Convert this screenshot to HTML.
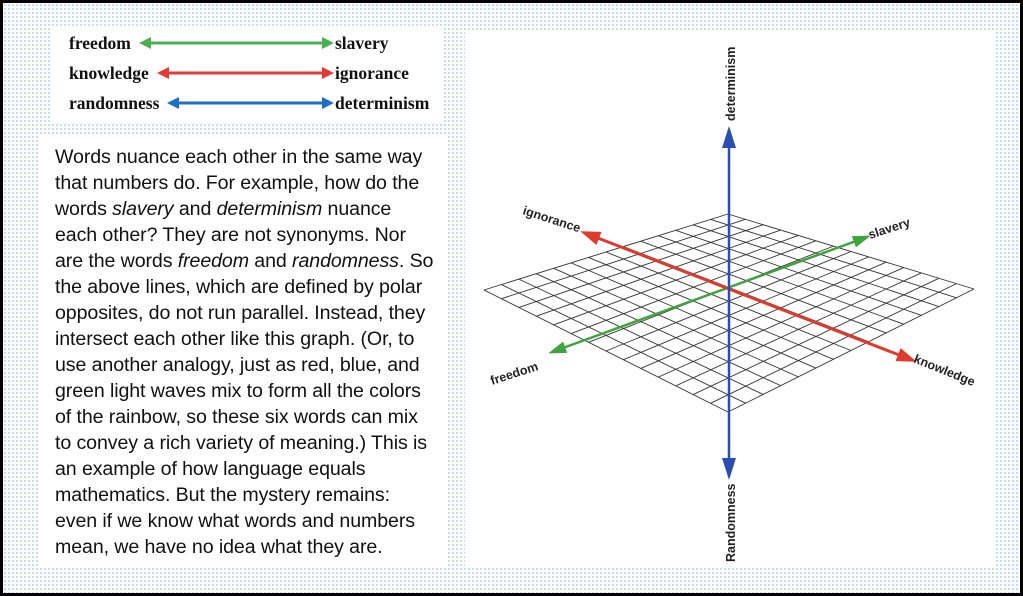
<!DOCTYPE html>
<html><head><meta charset="utf-8"><style>
html,body{margin:0;padding:0;width:1023px;height:596px;overflow:hidden;background:#fff}
#wrap{position:absolute;left:0;top:0;width:1017px;height:590px;border:3px solid #000;
background-color:#fff;background-image:radial-gradient(circle,#b9d3ea 0.9px,transparent 1.1px);background-size:4px 4px}
.panel{position:absolute;background:#fff}
.txt{font-family:"Liberation Sans",sans-serif;font-size:19.6px;line-height:26px;color:#111;white-space:nowrap;letter-spacing:-0.1px}
</style></head><body>
<div id="wrap">
<div class="panel" style="left:47px;top:25px;width:393px;height:95px"></div>
<div class="panel" style="left:35px;top:132px;width:408px;height:431px"></div>
<div class="panel" style="left:462px;top:27px;width:531px;height:536px"></div>
</div>
<svg width="1023" height="596" style="position:absolute;left:0;top:0">
<defs>
<marker id="ag" markerWidth="12" markerHeight="12" refX="9" refY="6" orient="auto-start-reverse" markerUnits="userSpaceOnUse"><path d="M0,0 L12,6 L0,12 Z" fill="#4caf50"/></marker>
<marker id="ar" markerWidth="12" markerHeight="12" refX="9" refY="6" orient="auto-start-reverse" markerUnits="userSpaceOnUse"><path d="M0,0 L12,6 L0,12 Z" fill="#e53935"/></marker>
<marker id="ab" markerWidth="12" markerHeight="12" refX="9" refY="6" orient="auto-start-reverse" markerUnits="userSpaceOnUse"><path d="M0,0 L12,6 L0,12 Z" fill="#1e6fc8"/></marker>
<marker id="g2" markerWidth="18" markerHeight="12" refX="14" refY="6" orient="auto-start-reverse" markerUnits="userSpaceOnUse"><path d="M0,0 L18,6 L0,12 Z" fill="#3fa33f"/></marker>
<marker id="r2" markerWidth="20" markerHeight="14" refX="15" refY="7" orient="auto-start-reverse" markerUnits="userSpaceOnUse"><path d="M0,0 L20,7 L0,14 Z" fill="#e03a2f"/></marker>
<marker id="b2" markerWidth="22" markerHeight="14" refX="18" refY="7" orient="auto-start-reverse" markerUnits="userSpaceOnUse"><path d="M0,0 L22,7 L0,14 Z" fill="#2a4fb0"/></marker>
</defs>
<g font-family="Liberation Serif,serif" font-weight="bold" font-size="17.5" fill="#111">
<text x="69" y="49">freedom</text><text x="335" y="49">slavery</text>
<text x="69" y="79">knowledge</text><text x="335" y="79">ignorance</text>
<text x="69" y="109">randomness</text><text x="335" y="109">determinism</text>
</g>
<line x1="142" y1="43" x2="331" y2="43" stroke="#4caf50" stroke-width="3" marker-start="url(#ag)" marker-end="url(#ag)"/>
<line x1="160" y1="73" x2="331" y2="73" stroke="#e53935" stroke-width="3" marker-start="url(#ar)" marker-end="url(#ar)"/>
<line x1="170" y1="103" x2="331" y2="103" stroke="#1e6fc8" stroke-width="3" marker-start="url(#ab)" marker-end="url(#ab)"/>
<g id="grid" stroke="#333" stroke-width="0.9" fill="none"></g>
<line x1="552" y1="352" x2="867" y2="237" stroke="#3fa33f" stroke-width="2.5" marker-start="url(#g2)" marker-end="url(#g2)"/>
<line x1="585" y1="233" x2="912" y2="360" stroke="#e03a2f" stroke-width="3" marker-start="url(#r2)" marker-end="url(#r2)"/>
<line x1="729" y1="130" x2="729" y2="476" stroke="#2a4fb0" stroke-width="2.5" marker-start="url(#b2)" marker-end="url(#b2)"/>
<g font-family="Liberation Sans,sans-serif" font-weight="bold" font-size="12.5" fill="#222">
<text transform="translate(735,121) rotate(-90)">determinism</text>
<text transform="translate(735,562) rotate(-90)">Randomness</text>
<text transform="translate(522,214) rotate(18)">ignorance</text>
<text transform="translate(870,239) rotate(-18)">slavery</text>
<text transform="translate(492,385) rotate(-18)">freedom</text>
<text transform="translate(913,362) rotate(22)">knowledge</text>
</g>
</svg>
<div class="txt" style="position:absolute;left:55px;top:144px">
Words nuance each other in the same way<br>
that numbers do. For example, how do the<br>
words <i>slavery</i> and <i>determinism</i> nuance<br>
each other? They are not synonyms. Nor<br>
are the words <i>freedom</i> and <i>randomness</i>. So<br>
the above lines, which are defined by polar<br>
opposites, do not run parallel. Instead, they<br>
intersect each other like this graph. (Or, to<br>
use another analogy, just as red, blue, and<br>
green light waves mix to form all the colors<br>
of the rainbow, so these six words can mix<br>
to convey a rich variety of meaning.) This is<br>
an example of how language equals<br>
mathematics. But the mystery remains:<br>
even if we know what words and numbers<br>
mean, we have no idea what they are.
</div>
<script>
(function(){
var T=[728,214],L=[484,290],R=[974,289],B=[728,412],n=14,g=document.getElementById('grid'),s='';
function lerp(a,b,t){return [a[0]+(b[0]-a[0])*t,a[1]+(b[1]-a[1])*t];}
for(var i=0;i<=n;i++){var t=i/n;
var p=lerp(L,T,t),q=lerp(B,R,t);s+='<line x1="'+p[0]+'" y1="'+p[1]+'" x2="'+q[0]+'" y2="'+q[1]+'"/>';
p=lerp(L,B,t);q=lerp(T,R,t);s+='<line x1="'+p[0]+'" y1="'+p[1]+'" x2="'+q[0]+'" y2="'+q[1]+'"/>';}
g.innerHTML=s;})();
</script>
</body></html>
